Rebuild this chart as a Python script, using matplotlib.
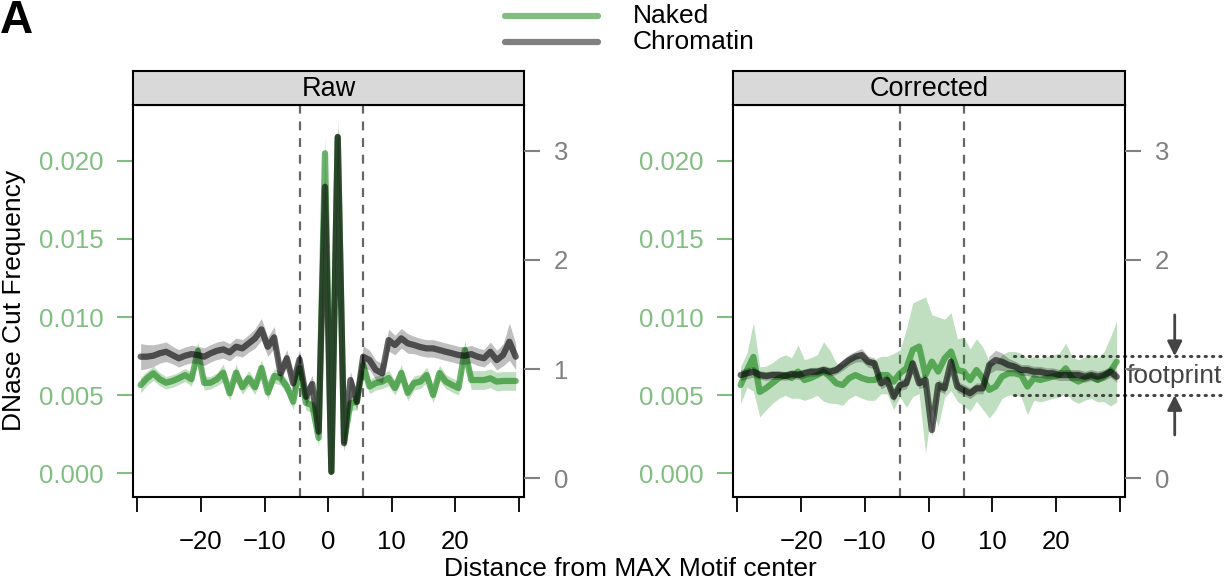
import numpy as np
import matplotlib.pyplot as plt
from matplotlib.lines import Line2D

plt.rcParams['font.family'] = ['Liberation Sans', 'DejaVu Sans']

# distance from motif center (bp), one value per position
pos = [-29.5, -28.5, -27.5, -26.5, -25.5, -24.5, -23.5, -22.5, -21.5, -20.5,
       -19.5, -18.5, -17.5, -16.5, -15.5, -14.5, -13.5, -12.5, -11.5, -10.5,
       -9.5, -8.5, -7.5, -6.5, -5.5, -4.5, -3.5, -2.5, -1.5, -0.5,
       0.5, 1.5, 2.5, 3.5, 4.5, 5.5, 6.5, 7.5, 8.5, 9.5,
       10.5, 11.5, 12.5, 13.5, 14.5, 15.5, 16.5, 17.5, 18.5, 19.5,
       20.5, 21.5, 22.5, 23.5, 24.5, 25.5, 26.5, 27.5, 28.5, 29.5]
motif_edges = [-4.5, 5.5]

# Raw: naked DNA (left axis) and chromatin (right axis)
raw_naked = [0.00565, 0.00608, 0.00640, 0.00602, 0.00580, 0.00591, 0.00608, 0.00629, 0.00602, 0.00783,
             0.00578, 0.00580, 0.00602, 0.00644, 0.00512, 0.00644, 0.00551, 0.00608, 0.00551, 0.00674,
             0.00517, 0.00623, 0.00610, 0.00555, 0.00458, 0.00674, 0.00450, 0.00437, 0.00226, 0.02049,
             0.00010, 0.02150, 0.00202, 0.00448, 0.00458, 0.00693, 0.00555, 0.00578, 0.00587, 0.00610,
             0.00546, 0.00642, 0.00514, 0.00578, 0.00587, 0.00629, 0.00501, 0.00642, 0.00587, 0.00565,
             0.00546, 0.00790, 0.00597, 0.00597, 0.00597, 0.00608, 0.00587, 0.00591, 0.00591, 0.00591]
raw_naked_err = [0.00050, 0.00045, 0.00045, 0.00042, 0.00040, 0.00040, 0.00040, 0.00042, 0.00045, 0.00060,
                 0.00045, 0.00040, 0.00042, 0.00055, 0.00045, 0.00055, 0.00045, 0.00050, 0.00045, 0.00055,
                 0.00045, 0.00045, 0.00045, 0.00045, 0.00050, 0.00050, 0.00045, 0.00050, 0.00060, 0.00110,
                 0.00040, 0.00120, 0.00055, 0.00050, 0.00050, 0.00055, 0.00045, 0.00045, 0.00045, 0.00050,
                 0.00045, 0.00055, 0.00050, 0.00045, 0.00045, 0.00050, 0.00050, 0.00050, 0.00045, 0.00045,
                 0.00045, 0.00060, 0.00060, 0.00060, 0.00060, 0.00060, 0.00060, 0.00060, 0.00060, 0.00060]
raw_chrom = [1.114, 1.114, 1.123, 1.145, 1.159, 1.129, 1.099, 1.123, 1.138, 1.129,
             1.114, 1.145, 1.168, 1.181, 1.154, 1.205, 1.190, 1.236, 1.282, 1.364,
             1.205, 1.291, 0.962, 1.099, 0.870, 1.090, 0.747, 0.864, 0.427, 2.670,
             0.060, 3.128, 0.321, 0.900, 0.701, 1.114, 1.083, 0.992, 0.962, 1.266,
             1.221, 1.282, 1.236, 1.221, 1.202, 1.190, 1.190, 1.175, 1.159, 1.145,
             1.129, 1.123, 1.138, 1.114, 1.099, 1.159, 1.083, 1.129, 1.251, 1.114]
raw_chrom_err = [0.12, 0.11, 0.10, 0.09, 0.09, 0.08, 0.08, 0.08, 0.08, 0.08,
                 0.08, 0.08, 0.08, 0.08, 0.08, 0.08, 0.08, 0.08, 0.09, 0.10,
                 0.09, 0.10, 0.08, 0.08, 0.08, 0.09, 0.08, 0.08, 0.08, 0.10,
                 0.06, 0.12, 0.08, 0.08, 0.08, 0.10, 0.09, 0.09, 0.09, 0.10,
                 0.09, 0.09, 0.09, 0.08, 0.08, 0.08, 0.08, 0.08, 0.08, 0.08,
                 0.08, 0.08, 0.08, 0.08, 0.08, 0.09, 0.09, 0.10, 0.17, 0.12]

# Corrected
cor_naked = [0.00565, 0.00661, 0.00745, 0.00521, 0.00546, 0.00578, 0.00610, 0.00629, 0.00610, 0.00651,
             0.00597, 0.00610, 0.00629, 0.00651, 0.00619, 0.00576, 0.00565, 0.00608, 0.00629, 0.00610,
             0.00597, 0.00597, 0.00629, 0.00629, 0.00587, 0.00640, 0.00672, 0.00790, 0.00811, 0.00629,
             0.00715, 0.00651, 0.00736, 0.00779, 0.00661, 0.00651, 0.00597, 0.00661, 0.00608, 0.00534,
             0.00555, 0.00619, 0.00640, 0.00640, 0.00629, 0.00555, 0.00608, 0.00597, 0.00608, 0.00619,
             0.00629, 0.00672, 0.00608, 0.00587, 0.00608, 0.00619, 0.00597, 0.00619, 0.00651, 0.00715]
cor_naked_err = [0.0012, 0.0011, 0.0022, 0.0016, 0.0014, 0.0013, 0.0013, 0.0013, 0.0013, 0.0017,
                 0.0013, 0.0013, 0.0013, 0.0019, 0.0017, 0.0013, 0.0013, 0.0013, 0.0013, 0.0013,
                 0.0013, 0.0013, 0.0012, 0.0012, 0.0018, 0.0015, 0.0025, 0.0030, 0.0030, 0.0050,
                 0.0030, 0.0035, 0.0025, 0.0025, 0.0020, 0.0022, 0.0020, 0.0020, 0.0020, 0.0018,
                 0.0015, 0.0014, 0.0014, 0.0014, 0.0014, 0.0018, 0.0014, 0.0014, 0.0014, 0.0014,
                 0.0014, 0.0016, 0.0014, 0.0014, 0.0014, 0.0014, 0.0014, 0.0016, 0.0022, 0.0026]
cor_chrom = [0.946, 0.962, 0.976, 0.946, 0.937, 0.946, 0.946, 0.937, 0.955, 0.946,
             0.962, 0.976, 0.976, 0.992, 0.976, 0.992, 1.038, 1.083, 1.114, 1.129,
             1.068, 1.053, 0.870, 0.900, 0.747, 0.854, 0.870, 1.053, 0.870, 0.900,
             0.442, 0.854, 0.824, 1.068, 0.839, 0.809, 0.779, 0.824, 0.824, 1.038,
             1.083, 1.068, 1.038, 1.023, 0.992, 0.992, 0.976, 0.976, 0.962, 0.962,
             0.946, 0.946, 0.946, 0.946, 0.930, 0.946, 0.930, 0.946, 0.976, 0.930]
cor_chrom_err = [0.05, 0.05, 0.05, 0.04, 0.04, 0.04, 0.04, 0.04, 0.04, 0.04,
                 0.04, 0.04, 0.04, 0.04, 0.04, 0.04, 0.05, 0.05, 0.05, 0.06,
                 0.05, 0.05, 0.05, 0.05, 0.05, 0.05, 0.05, 0.05, 0.05, 0.06,
                 0.06, 0.05, 0.05, 0.05, 0.05, 0.05, 0.05, 0.05, 0.05, 0.08,
                 0.09, 0.08, 0.06, 0.05, 0.05, 0.05, 0.05, 0.05, 0.05, 0.05,
                 0.05, 0.05, 0.05, 0.05, 0.05, 0.05, 0.05, 0.05, 0.05, 0.05]

footprint_band = [0.0050, 0.0075]

GREEN = '#1f8a1f'
GREEN_TXT = '#80bf80'
GRAY_TXT = '#808080'
FS = 18.5

fig = plt.figure(figsize=(12.27, 5.81), dpi=100)


def panel(left, width, title, naked, naked_err, chrom, chrom_err, right_labels):
    ax = fig.add_axes([left, 0.14458, width, 0.6747])
    ax2 = ax.twinx()

    n = np.array(naked)
    ne = np.array(naked_err)
    c = np.array(chrom)
    ce = np.array(chrom_err)

    ax.fill_between(pos, n - ne, n + ne, color=GREEN, alpha=0.28, lw=0)
    ax.plot(pos, n, color=GREEN, alpha=0.65, lw=4.5,
            solid_joinstyle='round', solid_capstyle='round')
    for e in motif_edges:
        ax.axvline(e, color='#666666', lw=1.6, ls=(0, (4, 3.5)), zorder=0)

    ax2.fill_between(pos, c - ce, c + ce, color='black', alpha=0.25, lw=0)
    ax2.plot(pos, c, color='black', alpha=0.6, lw=4.5,
             solid_joinstyle='round', solid_capstyle='round')

    ax.set_xlim(-30.7, 30.8)
    ax.set_ylim(-0.00152, 0.02358)
    ax2.set_ylim(-0.171, 3.419)

    ax.set_xticks([-30, -20, -10, 0, 10, 20, 30])
    ax.set_xticklabels(['', '\u221220', '\u221210', '0', '10', '20', ''])
    ax.set_yticks([0, 0.005, 0.010, 0.015, 0.020])
    ax.set_yticklabels(['0.000', '0.005', '0.010', '0.015', '0.020'])
    ax2.set_yticks([0, 1, 2, 3])
    ax2.set_yticklabels(right_labels)

    ax.tick_params(axis='x', direction='out', length=11, width=1.3,
                   pad=13, labelsize=FS, colors='black')
    ax.tick_params(axis='y', direction='out', length=11.5, width=1.5,
                   pad=10, labelsize=FS, colors=GREEN_TXT)
    ax2.tick_params(axis='y', direction='out', length=11.5, width=1.5,
                    pad=10, labelsize=FS, colors=GRAY_TXT)
    for s in ax.spines.values():
        s.set_linewidth(1.5)
    for s in ax2.spines.values():
        s.set_visible(False)

    strip = fig.add_axes([left, 0.81928, width, 0.05852])
    strip.set_facecolor('#d9d9d9')
    strip.set_xticks([])
    strip.set_yticks([])
    for s in strip.spines.values():
        s.set_linewidth(1.5)
    strip.text(0.5, 0.47, title, ha='center', va='center', fontsize=FS + 1,
               transform=strip.transAxes)
    return ax, ax2


axL, axL2 = panel(133 / 1227, 391 / 1227, 'Raw', raw_naked, raw_naked_err,
                  raw_chrom, raw_chrom_err, ['0', '1', '2', '3'])
# the "1" label of the corrected panel sits under the footprint note
axR, axR2 = panel(733 / 1227, 392 / 1227, 'Corrected', cor_naked, cor_naked_err,
                  cor_chrom, cor_chrom_err, ['0', '', '2', '3'])

# footprint annotation
for yv in footprint_band:
    axR.plot([13.35, 46.6], [yv, yv], color='#444444', lw=2.2, ls=(0, (0.4, 2.0)),
             dash_capstyle='round', clip_on=False)
axR.annotate('', xy=(38.6, footprint_band[1]), xytext=(38.6, 0.01014),
             arrowprops=dict(arrowstyle='-|>', color='#444444', lw=2,
                             mutation_scale=22, shrinkA=0, shrinkB=0),
             annotation_clip=False)
axR.annotate('', xy=(38.6, footprint_band[0]), xytext=(38.6, 0.00245),
             arrowprops=dict(arrowstyle='-|>', color='#444444', lw=2,
                             mutation_scale=22, shrinkA=0, shrinkB=0),
             annotation_clip=False)
axR.text(38.6, sum(footprint_band) / 2, 'footprint', ha='center', va='center',
         fontsize=FS + 0.5, color='#444444', clip_on=False)

# legend
fig.add_artist(Line2D([505 / 1227, 598 / 1227], [1 - 15.7 / 581] * 2, transform=fig.transFigure,
                      color='#82be82', lw=4.5, solid_capstyle='round'))
fig.add_artist(Line2D([505 / 1227, 598 / 1227], [1 - 41.7 / 581] * 2, transform=fig.transFigure,
                      color='#808080', lw=4.5, solid_capstyle='round'))
fig.text(633 / 1227, 1 - 16 / 581, 'Naked', fontsize=FS + 0.5, va='center', ha='left')
fig.text(633 / 1227, 1 - 42 / 581, 'Chromatin', fontsize=FS + 0.5, va='center', ha='left')

fig.text(0.0, 1 - 21 / 581, 'A', fontsize=33, fontweight='bold', va='center', ha='left')
fig.text(14 / 1227, 1 - 300 / 581, 'DNase Cut Frequency', rotation=90,
         fontsize=FS + 0.5, va='center', ha='center')
fig.text(630 / 1227, 1 - 569 / 581, 'Distance from MAX Motif center',
         fontsize=FS + 0.5, va='center', ha='center')

fig.savefig('out.png', dpi=100)
